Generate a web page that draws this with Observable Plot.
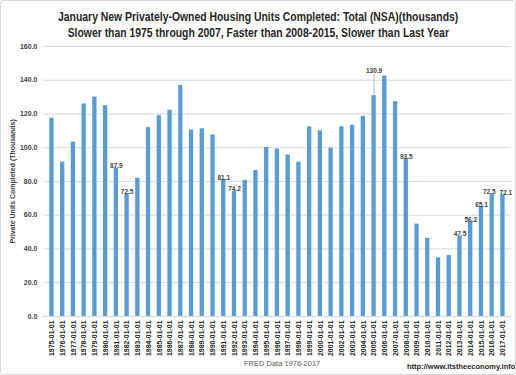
<!DOCTYPE html>
<html><head><meta charset="utf-8">
<script src="https://cdn.jsdelivr.net/npm/d3@7"></script>
<script src="https://cdn.jsdelivr.net/npm/@observablehq/plot@0.6"></script>
<style>
html,body{margin:0;padding:0;background:#fff;}
#wrap{position:relative;width:514px;height:373px;border:1px solid #d9d9d9;border-radius:3px;overflow:hidden;}
.title{position:absolute;left:0;width:514px;text-align:center;font-family:"Liberation Sans",Arial,sans-serif;font-weight:bold;font-size:13px;color:#262626;white-space:nowrap;}
.title span{display:inline-block;transform:scaleX(0.8);transform-origin:center;}
#chart{position:absolute;left:0;top:39px;}
.foot{position:absolute;font-family:"Liberation Sans",Arial,sans-serif;font-size:7.5px;color:#595959;}
</style></head>
<body><div id="wrap">
<div class="title" style="top:8px"><span>January New Privately-Owned Housing Units Completed: Total (NSA)(thousands)</span></div>
<div class="title" style="top:24px"><span>Slower than 1975 through 2007, Faster than 2008-2015, Slower than Last Year</span></div>
<div id="chart"></div>
<div class="foot" style="left:243px;top:358px;">FRED Data 1976-2017</div>
<div class="foot" style="left:406px;top:361px;font-weight:bold;color:#262626;">http://www.itstheeconomy.info/</div>
</div>
<script>
const years = d3.range(1975, 2018);
const dates = years.map(y => `${y}-01-01`);
const values = [117.5, 91.4, 103.3, 125.9, 130.0, 124.9, 87.9, 72.5, 81.9, 111.9,
  119.0, 122.2, 136.9, 110.4, 111.2, 107.5, 81.1, 74.2, 80.6, 86.5,
  100.2, 99.2, 95.7, 91.4, 112.4, 110.0, 99.8, 112.4, 113.3, 118.6,
  130.9, 142.5, 127.3, 93.5, 54.7, 46.3, 34.7, 36.1, 47.5, 56.2,
  65.1, 72.5, 72.1];
const labeledDates = ["1981-01-01","1982-01-01","1991-01-01","1992-01-01","2008-01-01",
  "2013-01-01","2014-01-01","2015-01-01"];
const leftLabelDates = ["2016-01-01"];
const rightLabelDates = ["2017-01-01"];
const calloutDates = ["2005-01-01"];
const yTicks = [0, 20, 40, 60, 80, 100, 120, 140, 160];

const data = dates.map((d, i) => ({date: d, value: values[i]}));
const pick = list => data.filter(d => list.includes(d.date));
const labeled = pick(labeledDates);
const leftLabeled = pick(leftLabelDates);
const rightLabeled = pick(rightLabelDates);
const callout = pick(calloutDates);

const labelStyle = {x: "date", y: "value", text: d => d.value.toFixed(1), lineAnchor: "bottom", dy: 0,
  fontSize: 6.5, fontWeight: "bold", fill: "#404040", letterSpacing: -0.2};

const chart = Plot.plot({
  width: 516, height: 334,
  marginTop: 6, marginBottom: 57, marginLeft: 42, marginRight: 4,
  style: {fontFamily: "'Liberation Sans', Arial, sans-serif", background: "transparent"},
  x: {domain: dates, padding: 0.6, label: null},
  y: {domain: [0, 160], label: null},
  marks: [
    Plot.gridY(yTicks, {stroke: "#d9d9d9", strokeOpacity: 1}),
    Plot.axisY(yTicks, {tickSize: 0, tickPadding: 6, tickFormat: d3.format(".1f"),
      fontSize: 7, fontWeight: "bold", fill: "#404040",
      label: "Private Units Completed (Thousands)", labelAnchor: "center", labelArrow: "none", labelOffset: 33}),
    Plot.axisX({tickSize: 0, tickPadding: 4, tickRotate: -90, fontSize: 7, fontWeight: "bold", fill: "#262626"}),
    Plot.barY(data, {x: "date", y: "value", fill: "#5B9BD5"}),
    Plot.ruleY([0], {stroke: "#d9d9d9"}),
    Plot.text(labeled, labelStyle),
    Plot.text(leftLabeled, {...labelStyle, dx: -3}),
    Plot.text(rightLabeled, {...labelStyle, dx: 3}),
    Plot.ruleX(callout, {x: "date", y1: "value", y2: d => d.value + 13, stroke: "#a6a6a6", strokeWidth: 0.8}),
    Plot.text(callout, {...labelStyle, y: d => d.value + 13, dy: -1})
  ]
});
document.getElementById("chart").appendChild(chart);
</script>
</body></html>
